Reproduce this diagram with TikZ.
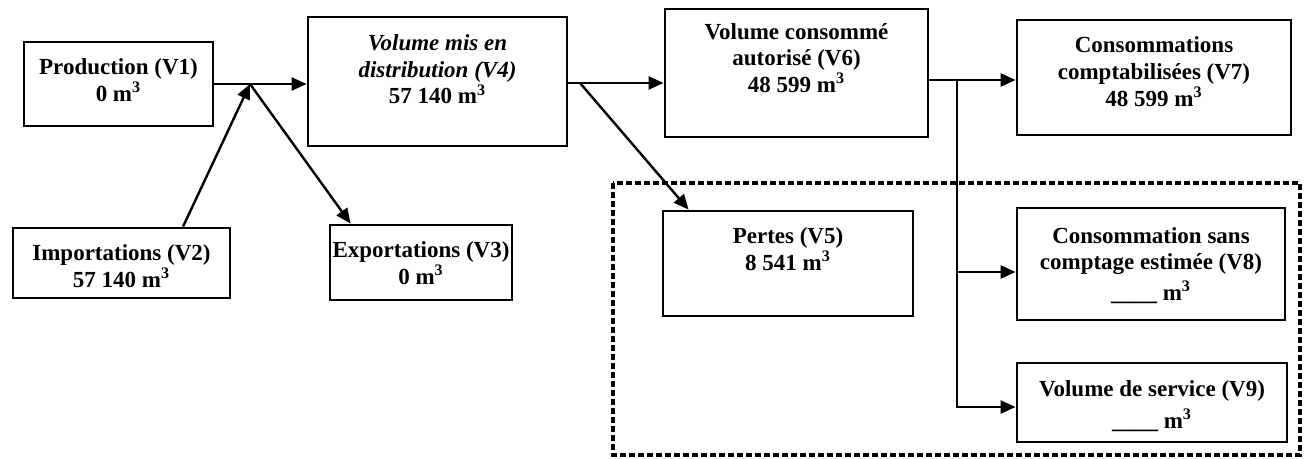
\documentclass[tikz,border=0pt]{standalone}
\usepackage{fontspec}
\setmainfont{Liberation Serif}
\usepackage{tikz}
\usetikzlibrary{arrows.meta, positioning, calc}

\begin{document}
\begin{tikzpicture}[x=0.5pt, y=-0.5pt,
  box/.style={draw, line width=1.4pt, rectangle, inner sep=0pt},
  boxtext/.style={font=\fontsize{11.5}{13.3}\selectfont\bfseries, align=center,
                  inner sep=0pt, anchor=north, execute at begin node=\strut},
  arr/.style={-{Triangle[length=7.5pt, width=6.5pt]}, line width=1.2pt},
  lossframe/.style={line width=2pt, dash pattern=on 2.8pt off 1.7pt}]

  \useasboundingbox (0,0) rectangle (1306,459);

  % Volume boxes (name / centre / width, height in pt)
  \foreach \name/\cx/\cy/\w/\h in {
    v1/118.5/84/94.5/42,
    v2/121.5/263/108.5/35,
    v3/421/262.5/91/37.5,
    v4/437.5/81.5/129.5/64.5,
    v5/788/263.5/125/52.5,
    v6/796.5/73/131.5/64,
    v7/1154/77.5/137/57.5,
    v8/1151/264/134/56,
    v9/1152/402.5/135/39.5
  } {
    \node[box, minimum width=\w pt, minimum height=\h pt] (\name) at (\cx,\cy) {};
  }

  % Box texts
  \node[boxtext, below=9pt of v1.north] (v1txt) {Production (V1)\\0 m\textsuperscript{3}};
  \node[boxtext, below=9pt of v2.north] (v2txt) {Importations (V2)\\57 140 m\textsuperscript{3}};
  \node[boxtext, below=9pt of v3.north] (v3txt) {Exportations (V3)\\0 m\textsuperscript{3}};
  \node[boxtext, below=9.3pt of v4.north] (v4txt) {\textit{Volume mis en}\\\textit{distribution (V4)}\\57 140 m\textsuperscript{3}};
  \node[boxtext, below=9pt of v5.north] (v5txt) {Pertes (V5)\\8 541 m\textsuperscript{3}};
  \node[boxtext, below=7.6pt of v6.north] (v6txt) {Volume consommé\\autorisé (V6)\\48 599 m\textsuperscript{3}};
  \node[boxtext, below=9pt of v7.north] (v7txt) {Consommations\\comptabilisées (V7)\\48 599 m\textsuperscript{3}};
  \node[boxtext, below=10.2pt of v8.north] (v8txt) {Consommation sans\\comptage estimée (V8)\\[1.8pt]\_\_\_\_ m\textsuperscript{3}};
  \node[boxtext, below=9.2pt of v9.north] (v9txt) {Volume de service (V9)\\[2.8pt]\_\_\_\_ m\textsuperscript{3}};

  % Losses frame
  \draw[lossframe] (613,183) rectangle (1300,455);

  % Junctions
  \coordinate (j1) at (250,84);
  \coordinate (j2) at (580,83);
  \coordinate (j3) at (957,80);

  % Flows
  \draw[arr] (v1.east) -- (v4.west |- v1.east);
  \draw[arr] ($(v2.north west)!0.78!(v2.north east)$) -- (j1);
  \draw[arr] (j1) -- ($(v3.north west)+(22,0)$);
  \draw[arr] (v4.east |- j2) -- (v6.west |- j2);
  \draw[arr] (j2) -- ($(v5.north west)+(27,0)$);
  \draw[arr] (v6.east |- j3) -- (v7.west |- j3);
  \draw[arr] (j3) |- ($(v8.west)+(0,8)$);
  \draw[arr] (j3) |- ($(v9.west)+(0,4.5)$);

\end{tikzpicture}
\end{document}
